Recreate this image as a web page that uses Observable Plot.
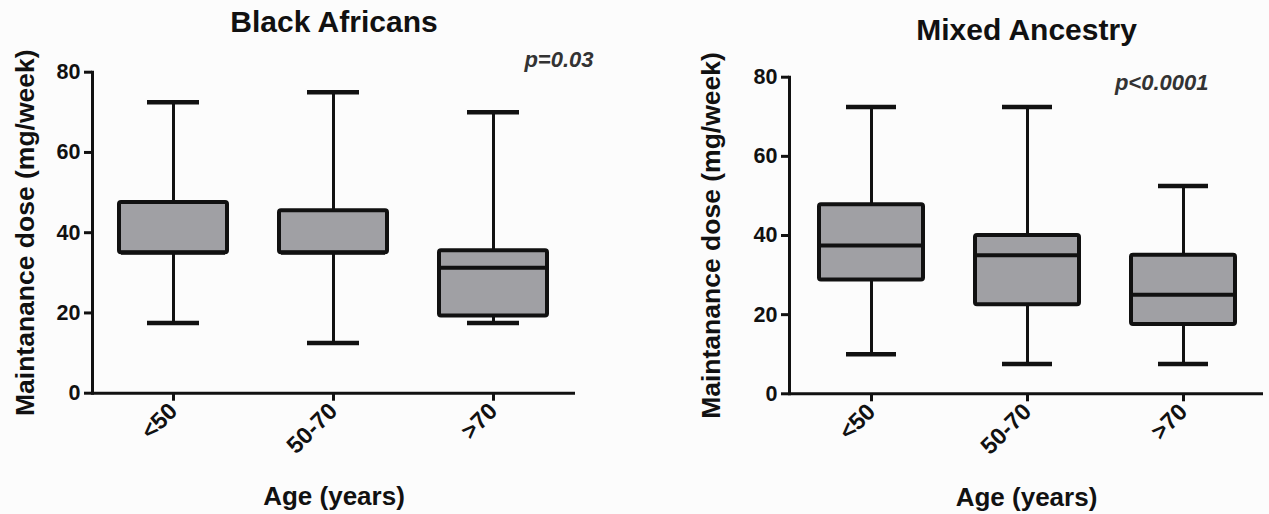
<!DOCTYPE html>
<html><head><meta charset="utf-8">
<script src="https://cdn.jsdelivr.net/npm/d3@7"></script>
<script src="https://cdn.jsdelivr.net/npm/@observablehq/plot@0.6"></script>
<style>
body{margin:0;background:#fcfcfc;}
#wrap{position:relative;width:1269px;height:514px;overflow:hidden;background:#fcfcfc;}
.panel{position:absolute;top:0;}
</style></head><body><div id="wrap"></div>
<script>
const ageGroups = ["<50", "50-70", ">70"];
const titles = ["Black Africans", "Mixed Ancestry"];
const pValues = ["p=0.03", "p<0.0001"];
const yTicks = [0, 20, 40, 60, 80];
const yLabel = "Maintanance dose (mg/week)";
const xLabel = "Age (years)";
// Black Africans
const baMin = [17.5, 12.5, 17.5];
const baQ1 = [35, 35, 19.25];
const baMedian = [35, 35, 31.25];
const baQ3 = [47.5, 45.5, 35.5];
const baMax = [72.5, 75, 70];
// Mixed Ancestry
const maMin = [10, 7.5, 7.5];
const maQ1 = [28.75, 22.5, 17.5];
const maMedian = [37.5, 35, 25];
const maQ3 = [47.75, 40, 35];
const maMax = [72.5, 72.5, 52.5];

function rows(mn, q1, md, q3, mx) {
  return ageGroups.map((g, i) => ({group: g, min: mn[i], q1: q1[i], median: md[i], q3: q3[i], max: mx[i]}));
}

const FONT = "'Liberation Sans', Arial, Helvetica, sans-serif";
const INK = "#111";
const BOX = "#a0a0a4";

function panel(data, cfg) {
  const capInset = cfg.capInset;
  return Plot.plot({
    width: cfg.width, height: 514,
    marginLeft: cfg.ml, marginRight: cfg.mr, marginTop: cfg.mt, marginBottom: cfg.mb,
    style: {fontFamily: FONT, background: "transparent", color: INK, overflow: "visible"},
    x: {domain: ageGroups, range: cfg.xr, paddingInner: cfg.pi, paddingOuter: 0, label: null},
    y: {domain: [0, 80], label: null},
    marks: [
      Plot.ruleX(data, {x: "group", y1: "q3", y2: "max", stroke: INK, strokeWidth: 3}),
      Plot.ruleX(data, {x: "group", y1: "min", y2: "q1", stroke: INK, strokeWidth: 3}),
      Plot.tickY(data, {x: "group", y: "max", stroke: INK, strokeWidth: 4.5, insetLeft: capInset, insetRight: capInset}),
      Plot.tickY(data, {x: "group", y: "min", stroke: INK, strokeWidth: 4.5, insetLeft: capInset, insetRight: capInset}),
      Plot.barY(data, {x: "group", y1: "q1", y2: "q3", fill: BOX, stroke: INK, strokeWidth: 4, strokeLinejoin: "round", rx: 2}),
      Plot.tickY(data, {x: "group", y: "median", stroke: INK, strokeWidth: 4, insetLeft: 2, insetRight: 2}),
      Plot.frame({anchor: "left", stroke: INK, strokeWidth: 3}),
      Plot.ruleY([0], {stroke: INK, strokeWidth: 3}),
      Plot.axisY({ticks: yTicks, tickSize: 8, tickPadding: 4, strokeWidth: 3, fontSize: 21.5, fontWeight: "bold", label: null, tickFormat: d => d}),
      Plot.axisX({tickSize: 8, tickPadding: 6, strokeWidth: 3, tickRotate: -45, fontSize: 23.5, fontWeight: "bold", label: null}),
      Plot.text([cfg.title], {text: d => d, frameAnchor: "top", lineAnchor: "bottom", dy: cfg.titleDy, fontSize: 30, fontWeight: "bold", fill: INK}),
      Plot.text([cfg.p], {text: d => d, frameAnchor: "top-right", textAnchor: "end", lineAnchor: "bottom", dx: cfg.pDx, dy: cfg.pDy, fontSize: 22, fontWeight: "bold", fontStyle: "italic", fill: "#333"}),
      Plot.text([yLabel], {text: d => d, frameAnchor: "left", textAnchor: "middle", lineAnchor: "middle", rotate: -90, dx: cfg.yLabDx, fontSize: 26.5, fontWeight: "bold", fill: INK}),
      Plot.text([xLabel], {text: d => d, frameAnchor: "bottom", lineAnchor: "bottom", dy: 112, fontSize: 26, fontWeight: "bold", fill: INK})
    ]
  });
}

const wrap = document.getElementById("wrap");
const left = panel(rows(baMin, baQ1, baMedian, baQ3, baMax), {
  width: 635, ml: 92, mr: 60, mt: 71.7, mb: 121.3,
  xr: [119, 547], pi: 0.325, capInset: 28,
  title: titles[0], titleDy: -39.7, p: pValues[0], pDx: 18, pDy: -5.7, yLabDx: -67
});
left.classList.add("panel"); left.style.left = "0px";
const right = panel(rows(maMin, maQ1, maMedian, maQ3, maMax), {
  width: 634, ml: 154, mr: 6, mt: 76.7, mb: 120.7,
  xr: [182.5, 601.5], pi: 0.331, capInset: 27,
  title: titles[1], titleDy: -37.4, p: pValues[1], pDx: -55, pDy: 12.3, yLabDx: -78
});
right.classList.add("panel"); right.style.left = "635px";
wrap.appendChild(left);
wrap.appendChild(right);
</script>
</body></html>
